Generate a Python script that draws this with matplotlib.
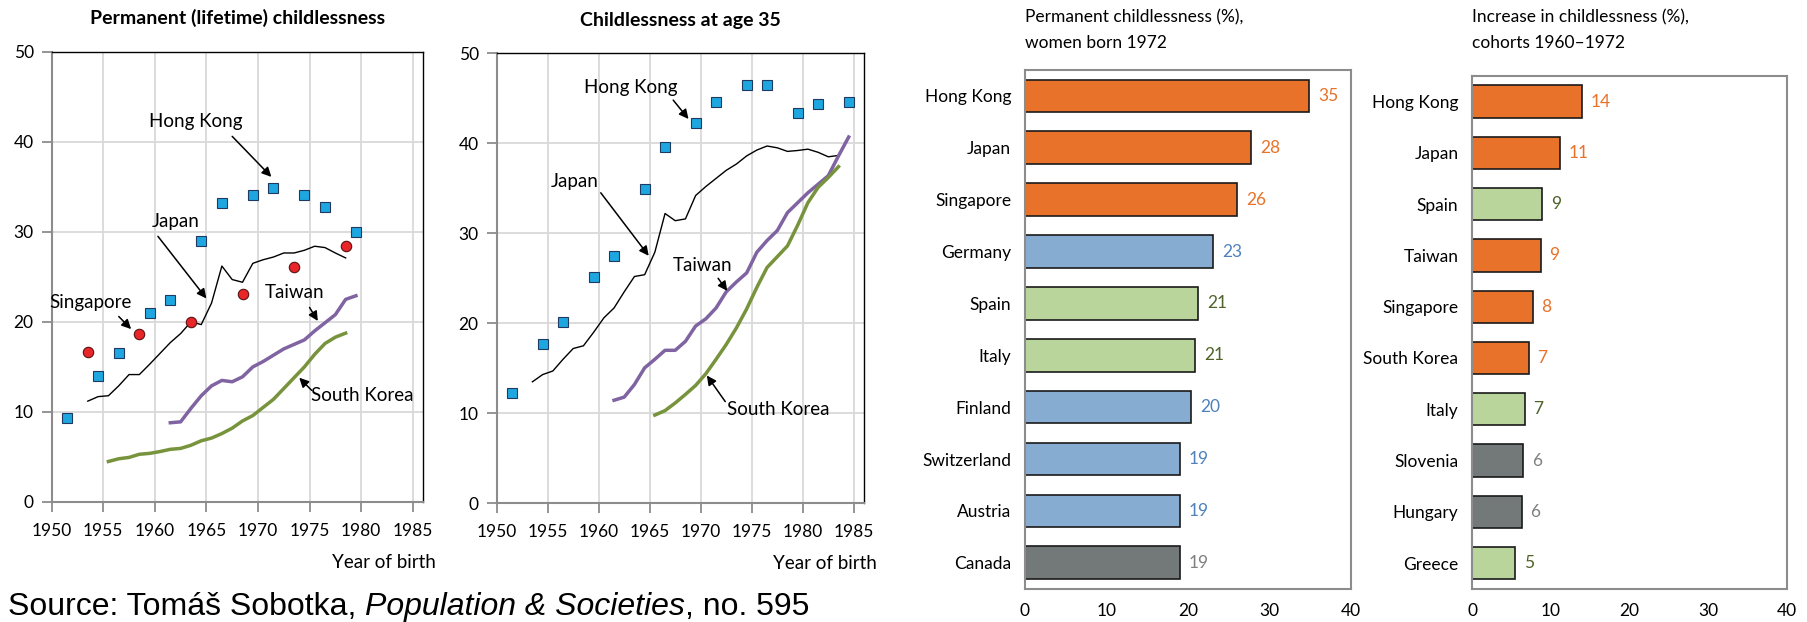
import matplotlib
matplotlib.use('agg')
import matplotlib.pyplot as plt

# ---- panel 1: permanent childlessness by birth year
hk_years = [1951.5, 1954.5, 1956.5, 1959.5, 1961.5, 1964.5, 1966.5, 1969.5,
            1971.5, 1974.5, 1976.5, 1979.5]
hk_perm = [9.3, 14.0, 16.6, 21.0, 22.4, 29.0, 33.2, 34.1, 34.9, 34.1, 32.8, 30.0]

sg_years = [1953.5, 1958.5, 1963.5, 1968.5, 1973.5, 1978.5]
sg_perm = [16.7, 18.6, 20.0, 23.1, 26.1, 28.4]

jp_years = [1953.5, 1954.5, 1955.5, 1956.5, 1957.5, 1958.5, 1959.5, 1960.5,
            1961.5, 1962.5, 1963.5, 1964.5, 1965.5, 1966.5, 1967.5, 1968.5,
            1969.5, 1970.5, 1971.5, 1972.5, 1973.5, 1974.5, 1975.5, 1976.5,
            1977.5, 1978.5]
jp_perm = [11.2, 11.7, 11.8, 12.9, 14.15, 14.15, 15.3, 16.5, 17.7, 18.7, 20.0,
           19.7, 22.1, 26.2, 24.7, 24.4, 26.5, 26.9, 27.2, 27.65, 27.65, 27.95,
           28.4, 28.25, 27.65, 27.1]

tw_years = [1961.5, 1962.5, 1963.5, 1964.5, 1965.5, 1966.5, 1967.5, 1968.5,
            1969.5, 1970.5, 1971.5, 1972.5, 1973.5, 1974.5, 1975.5, 1976.5,
            1977.5, 1978.5, 1979.5]
tw_perm = [8.8, 8.9, 10.4, 11.8, 12.9, 13.5, 13.35, 13.9, 15.0, 15.6, 16.3,
           17.0, 17.5, 18.0, 19.0, 19.9, 20.8, 22.5, 22.9]

kr_years = [1955.5, 1956.5, 1957.5, 1958.5, 1959.5, 1960.5, 1961.5, 1962.5,
            1963.5, 1964.5, 1965.5, 1966.5, 1967.5, 1968.5, 1969.5, 1970.5,
            1971.5, 1972.5, 1973.5, 1974.5, 1975.5, 1976.5, 1977.5, 1978.5]
kr_perm = [4.5, 4.8, 4.95, 5.3, 5.4, 5.6, 5.85, 5.95, 6.3, 6.8, 7.1, 7.6, 8.2,
           9.0, 9.6, 10.5, 11.4, 12.6, 13.8, 15.0, 16.4, 17.6, 18.3, 18.75]

# ---- panel 2: childlessness at age 35
hk_years35 = [1951.5, 1954.5, 1956.5, 1959.5, 1961.5, 1964.5, 1966.5, 1969.5,
              1971.5, 1974.5, 1976.5, 1979.5, 1981.5, 1984.5]
hk_35 = [12.3, 17.7, 20.2, 25.1, 27.5, 34.9, 39.6, 42.2, 44.6, 46.5, 46.5,
         43.4, 44.4, 44.6]

jp_years35 = [1953.5, 1954.5, 1955.5, 1956.5, 1957.5, 1958.5, 1959.5, 1960.5,
              1961.5, 1962.5, 1963.5, 1964.5, 1965.5, 1966.5, 1967.5, 1968.5,
              1969.5, 1970.5, 1971.5, 1972.5, 1973.5, 1974.5, 1975.5, 1976.5,
              1977.5, 1978.5, 1979.5, 1980.5, 1981.5, 1982.5, 1983.5]
jp_35 = [13.5, 14.3, 14.7, 16.0, 17.2, 17.5, 19.0, 20.6, 21.7, 23.5, 25.2, 25.4,
         27.9, 32.2, 31.4, 31.6, 34.2, 35.2, 36.1, 37.0, 37.7, 38.6, 39.25, 39.7,
         39.5, 39.1, 39.2, 39.35, 39.0, 38.5, 38.65]

tw_years35 = [1961.5, 1962.5, 1963.5, 1964.5, 1965.5, 1966.5, 1967.5, 1968.5,
              1969.5, 1970.5, 1971.5, 1972.5, 1973.5, 1974.5, 1975.5, 1976.5,
              1977.5, 1978.5, 1979.5, 1980.5, 1981.5, 1982.5, 1983.5, 1984.5]
tw_35 = [11.45, 11.8, 13.2, 15.05, 16.0, 17.0, 17.0, 18.0, 19.7, 20.5, 21.7,
         23.5, 24.6, 25.6, 27.9, 29.2, 30.3, 32.3, 33.4, 34.5, 35.45, 36.4,
         38.6, 40.7]

kr_years35 = [1965.5, 1966.5, 1967.5, 1968.5, 1969.5, 1970.5, 1971.5, 1972.5,
              1973.5, 1974.5, 1975.5, 1976.5, 1977.5, 1978.5, 1979.5, 1980.5,
              1981.5, 1982.5, 1983.5]
kr_35 = [9.8, 10.3, 11.15, 12.1, 13.1, 14.4, 16.0, 17.65, 19.5, 21.6, 24.0,
         26.2, 27.4, 28.6, 30.9, 33.4, 35.1, 36.2, 37.4]

# ---- panel 3: permanent childlessness, women born 1972
countries_a = ['Hong Kong', 'Japan', 'Singapore', 'Germany', 'Spain', 'Italy',
               'Finland', 'Switzerland', 'Austria', 'Canada']
perm_1972 = [34.9, 27.7, 26.0, 23.1, 21.2, 20.9, 20.4, 19.0, 19.0, 19.0]
group_a = ['asia', 'asia', 'asia', 'west', 'south', 'south', 'west', 'west',
           'west', 'other']

# ---- panel 4: increase in childlessness, cohorts 1960-1972
countries_b = ['Hong Kong', 'Japan', 'Spain', 'Taiwan', 'Singapore',
               'South Korea', 'Italy', 'Slovenia', 'Hungary', 'Greece']
increase = [14.0, 11.1, 8.9, 8.7, 7.7, 7.2, 6.7, 6.45, 6.3, 5.45]
group_b = ['asia', 'asia', 'south', 'asia', 'asia', 'asia', 'south', 'other',
           'other', 'south']

barColor = {'asia': '#E8722A', 'west': '#87ACD2', 'south': '#B9D59B', 'other': '#737878'}
textColor = {'asia': '#E8722A', 'west': '#4F81BD', 'south': '#4F6228', 'other': '#808080'}

plt.rcParams['font.family'] = ['Lato', 'DejaVu Sans']
W, H = 1808, 622
fig = plt.figure(figsize=(W / 100, H / 100), dpi=100)
annSize = 13.5


def box(l, t, r, b):
    return [l / W, 1 - b / H, (r - l) / W, (b - t) / H]


def lineAxes(ax, title):
    ax.set_xlim(1950, 1986)
    ax.set_ylim(0, 50)
    ax.set_xticks(range(1950, 1986, 5))
    ax.set_yticks(range(0, 51, 10))
    ax.grid(color='#D9D9D9', linewidth=1.3, zorder=0)
    ax.set_axisbelow(True)
    for s in ['left', 'bottom']:
        ax.spines[s].set_color('#8C8C8C')
        ax.spines[s].set_linewidth(1.5)
    for s in ['top', 'right']:
        ax.spines[s].set_color('black')
        ax.spines[s].set_linewidth(1.0)
    ax.tick_params(axis='both', direction='out', length=7, width=1.3,
                   color='#8C8C8C', labelsize=12.5, pad=6)
    ax.tick_params(axis='x', pad=8)
    ax.set_title(title, fontsize=14, fontweight='bold', pad=20)
    ax.text(1.035, -0.115, 'Year of birth', transform=ax.transAxes,
            ha='right', va='top', fontsize=annSize)


def arrow(ax, start, head):
    ax.annotate('', xy=head, xytext=start,
                arrowprops=dict(arrowstyle='-|>', color='black', lw=1.1,
                                mutation_scale=14, shrinkA=0, shrinkB=0))


def series(ax, hk_x, hk_y, jp_x, jp_y, tw_x, tw_y, kr_x, kr_y):
    ax.plot(jp_x, jp_y, color='black', linewidth=1.0, zorder=3)
    ax.plot(tw_x, tw_y, color='#8064A2', linewidth=2.5, zorder=3)
    ax.plot(kr_x, kr_y, color='#77933C', linewidth=2.5, zorder=3)
    ax.plot(hk_x, hk_y, linestyle='none', marker='s', markersize=6.5,
            markerfacecolor='#1EA6E0', markeredgecolor='#1F3A60',
            markeredgewidth=0.8, zorder=4)


# ---- panel 1
ax1 = fig.add_axes(box(51.7, 51.7, 423, 502))
lineAxes(ax1, 'Permanent (lifetime) childlessness')
series(ax1, hk_years, hk_perm, jp_years, jp_perm, tw_years, tw_perm, kr_years, kr_perm)
ax1.plot(sg_years, sg_perm, linestyle='none', marker='o', markersize=7.5,
         markerfacecolor='#E8262A', markeredgecolor='#5A1010',
         markeredgewidth=0.8, zorder=4)
ax1.text(1964.0, 42.3, 'Hong Kong', fontsize=annSize, ha='center', va='center')
arrow(ax1, (1967.5, 40.6), (1971.3, 36.1))
ax1.text(1962.0, 31.1, 'Japan', fontsize=annSize, ha='center', va='center')
arrow(ax1, (1960.3, 29.5), (1965.0, 22.6))
ax1.text(1953.8, 22.1, 'Singapore', fontsize=annSize, ha='center', va='center')
arrow(ax1, (1956.5, 20.6), (1957.7, 19.2))
ax1.text(1973.5, 23.3, 'Taiwan', fontsize=annSize, ha='center', va='center')
arrow(ax1, (1975.0, 21.6), (1975.8, 20.1))
ax1.text(1975.1, 11.8, 'South Korea', fontsize=annSize, ha='left', va='center')
arrow(ax1, (1975.2, 12.4), (1974.0, 13.8))

# ---- panel 2
ax2 = fig.add_axes(box(496.7, 53.3, 864, 503.3))
lineAxes(ax2, 'Childlessness at age 35')
series(ax2, hk_years35, hk_35, jp_years35, jp_35, tw_years35, tw_35, kr_years35, kr_35)
ax2.text(1963.1, 46.2, 'Hong Kong', fontsize=annSize, ha='center', va='center')
arrow(ax2, (1967.3, 44.8), (1968.8, 42.7))
ax2.text(1957.6, 35.8, 'Japan', fontsize=annSize, ha='center', va='center')
arrow(ax2, (1960.2, 34.5), (1964.9, 27.5))
ax2.text(1970.2, 26.4, 'Taiwan', fontsize=annSize, ha='center', va='center')
arrow(ax2, (1971.7, 25.0), (1972.6, 23.6))
ax2.text(1972.6, 10.4, 'South Korea', fontsize=annSize, ha='left', va='center')
arrow(ax2, (1972.4, 11.3), (1970.6, 14.2))


# ---- bar panels
def barAxes(ax, names, vals, groups, title1, title2):
    pos = list(range(len(names)))
    ax.barh(pos, vals, height=0.63, color=[barColor[g] for g in groups],
            edgecolor='#1A1A1A', linewidth=1.2, zorder=2)
    for p, v, g in zip(pos, vals, groups):
        ax.text(v + 1.1, p, '%.0f' % v, color=textColor[g], fontsize=12.5,
                ha='left', va='center')
    ax.set_xlim(0, 40)
    ax.set_ylim(len(names) - 0.5, -0.5)
    ax.set_yticks(pos)
    ax.set_yticklabels(names)
    ax.set_xticks(range(0, 41, 10))
    ax.tick_params(axis='both', length=0, labelsize=12.5)
    ax.tick_params(axis='y', pad=10)
    ax.tick_params(axis='x', pad=10)
    for s in ax.spines.values():
        s.set_color('#8C8C8C')
        s.set_linewidth(1.5)
    left = ax.get_position().x0
    fig.text(left, 1 - 17 / H, title1, ha='left', va='center', fontsize=12.5)
    fig.text(left, 1 - 43.5 / H, title2, ha='left', va='center', fontsize=12.5)


ax3 = fig.add_axes(box(1025, 70, 1351, 588.7))
barAxes(ax3, countries_a, perm_1972, group_a,
        'Permanent childlessness (%),', 'women born 1972')
ax4 = fig.add_axes(box(1472.3, 76, 1786.7, 588.7))
barAxes(ax4, countries_b, increase, group_b,
        'Increase in childlessness (%),', 'cohorts 1960\u20131972')

# source line at the bottom edge
srcFont = ['Liberation Sans', 'DejaVu Sans']
srcY = 7 / H
src = fig.text(8 / W, srcY, 'Source: Tom\u00e1\u0161 Sobotka, ', fontsize=23,
               family=srcFont, va='baseline')
fig.canvas.draw()
bb = src.get_window_extent()
it = fig.text(bb.x1 / W, srcY, 'Population & Societies', fontsize=23,
              style='italic', family=srcFont, va='baseline')
fig.canvas.draw()
bb2 = it.get_window_extent()
fig.text(bb2.x1 / W, srcY, ', no. 595', fontsize=23,
         family=srcFont, va='baseline')

fig.savefig('out.png', dpi=100)
